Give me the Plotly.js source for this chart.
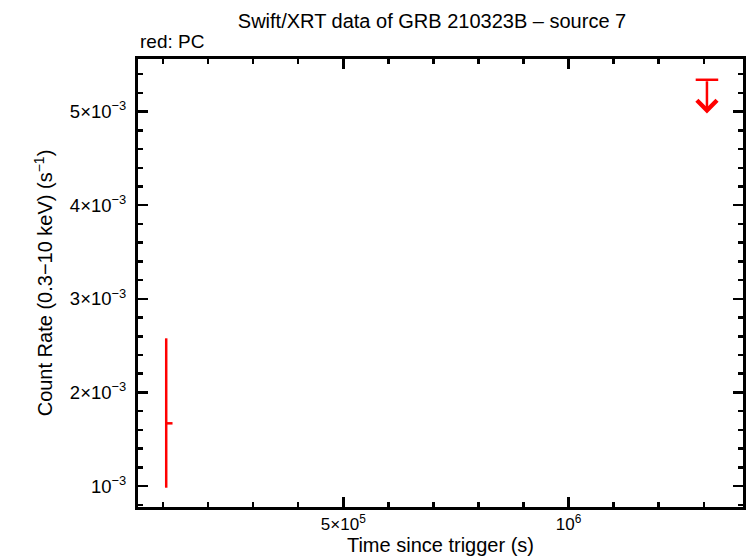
<!DOCTYPE html>
<html>
<head>
<meta charset="utf-8">
<script src="https://cdn.plot.ly/plotly-3.0.1.min.js"></script>
<style>html,body{margin:0;padding:0;background:#fff;}#chart{width:746px;height:558px;}</style>
</head>
<body>
<div id="chart"></div>
<script>
// PC detection
const pcTime = [1.07e5];
const pcTimeErrPlus = [0.14e5];
const pcTimeErrMinus = [0];
const pcRate = [1.67e-3];
const pcRateErrPlus = [0.908e-3];
const pcRateErrMinus = [0.688e-3];

// PC upper limit
const ulTime = [13.07e5];
const ulTimeErr = [0.25e5];
const ulRate = [5.34e-3];
const ulArrowTip = [4.98e-3];

// Axis ticks
const xTickVals = [5e5, 1e6];
const xTickText = ['5×10<sup>5</sup>', '10<sup>6</sup>'];
const yTickVals = [1e-3, 2e-3, 3e-3, 4e-3, 5e-3];
const yTickText = ['10<sup>−3</sup>', '2×10<sup>−3</sup>', '3×10<sup>−3</sup>', '4×10<sup>−3</sup>', '5×10<sup>−3</sup>'];

const red = '#ff0000';
const font = 'Liberation Sans, Arial, Helvetica, sans-serif';

const traces = [
  {
    x: pcTime, y: pcRate, type: 'scatter', mode: 'markers',
    marker: {size: 1, color: red, opacity: 0},
    error_y: {type: 'data', symmetric: false, array: pcRateErrPlus, arrayminus: pcRateErrMinus, color: red, thickness: 2.5, width: 0},
    error_x: {type: 'data', symmetric: false, array: pcTimeErrPlus, arrayminus: pcTimeErrMinus, color: red, thickness: 2.5, width: 0},
    showlegend: false, hoverinfo: 'skip'
  },
  {
    x: ulTime, y: ulRate, type: 'scatter', mode: 'markers',
    marker: {size: 1, color: red, opacity: 0},
    error_x: {type: 'data', array: ulTimeErr, color: red, thickness: 2.5, width: 0},
    showlegend: false, hoverinfo: 'skip'
  }
];

const annotations = [
  {
    text: 'red: PC', xref: 'paper', yref: 'paper', x: 0, y: 1,
    xanchor: 'left', yanchor: 'bottom', yshift: 5, showarrow: false,
    font: {family: font, size: 19, color: '#000'}
  }
];
ulTime.forEach((t, i) => {
  annotations.push({
    x: t, y: ulArrowTip[i], ax: t, ay: ulRate[i],
    xref: 'x', yref: 'y', axref: 'x', ayref: 'y',
    text: '', showarrow: true, arrowhead: 4, arrowsize: 1.55, arrowwidth: 2.5, arrowcolor: red
  });
});

const axisCommon = {
  showline: true, linecolor: '#000', linewidth: 3, mirror: 'allticks',
  ticks: 'inside', ticklen: 10, tickwidth: 2.5, tickcolor: '#000',
  showgrid: false, zeroline: false
};

const layout = {
  width: 746, height: 558,
  margin: {l: 138, r: 3, t: 59, b: 51},
  paper_bgcolor: '#fff', plot_bgcolor: '#fff',
  title: {
    text: 'Swift/XRT data of GRB 210323B – source 7',
    font: {family: font, size: 20, color: '#000'},
    x: 0.486, xref: 'paper', xanchor: 'center', y: 0.962, yref: 'container', yanchor: 'middle'
  },
  xaxis: Object.assign({}, axisCommon, {
    type: 'linear', range: [0.444e5, 13.87e5],
    tickmode: 'array', tickvals: xTickVals, ticktext: xTickText,
    tickfont: {family: font, size: 17, color: '#000'},
    minor: {tickmode: 'linear', tick0: 0, dtick: 1e5, ticks: 'inside', ticklen: 5, tickwidth: 2.5, tickcolor: '#000'},
    title: {text: 'Time since trigger (s)', font: {family: font, size: 20, color: '#000'}, standoff: 4}
  }),
  yaxis: Object.assign({}, axisCommon, {
    type: 'linear', range: [0.776e-3, 5.562e-3],
    tickmode: 'array', tickvals: yTickVals, ticktext: yTickText,
    tickfont: {family: font, size: 18.5, color: '#000'},
    ticklabelstandoff: 5,
    minor: {tickmode: 'linear', tick0: 0, dtick: 0.2e-3, ticks: 'inside', ticklen: 5, tickwidth: 2.5, tickcolor: '#000'},
    title: {text: 'Count Rate (0.3−10 keV) (s<sup>−1</sup>)', font: {family: font, size: 20, color: '#000'}, standoff: 12}
  }),
  annotations: annotations,
  showlegend: false
};

Plotly.newPlot('chart', traces, layout, {staticPlot: true, displayModeBar: false});
</script>
</body>
</html>
